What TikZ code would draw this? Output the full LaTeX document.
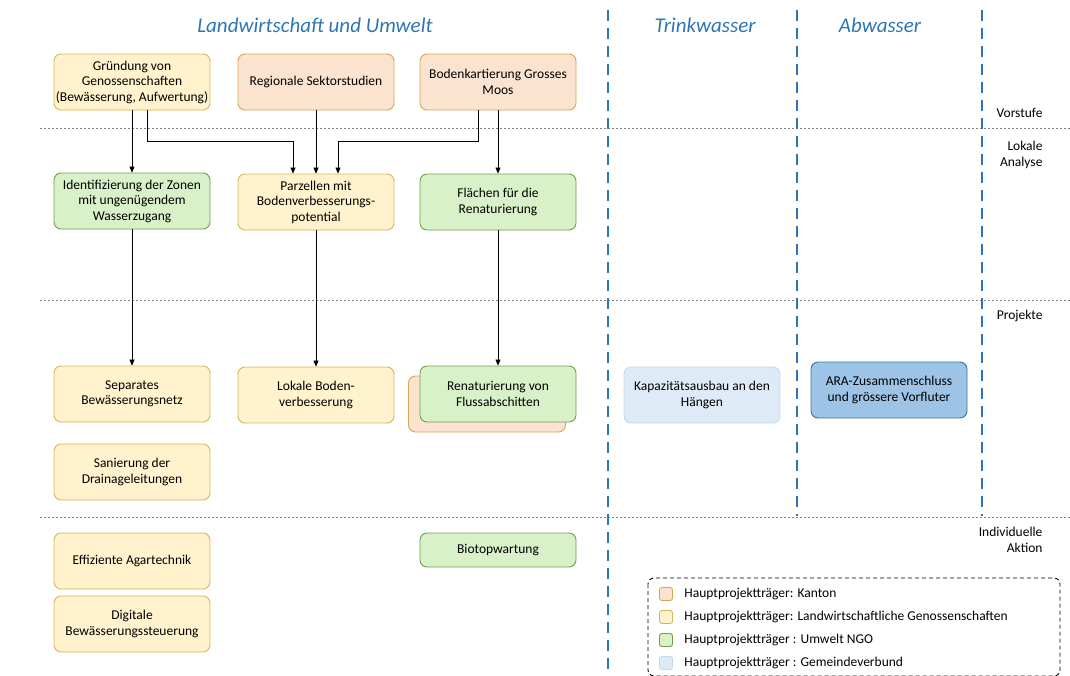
\documentclass[tikz,border=0pt]{standalone}
\usepackage{fontspec}
\setmainfont{Carlito}
\usetikzlibrary{arrows.meta,positioning}
\definecolor{genosfill}{HTML}{FFF2CC}
\definecolor{genosdraw}{HTML}{D6B656}
\definecolor{kantonfill}{HTML}{FBE3D0}
\definecolor{kantondraw}{HTML}{D4A850}
\definecolor{ngofill}{HTML}{D9F1C8}
\definecolor{ngodraw}{HTML}{6F9E52}
\definecolor{gemfill}{HTML}{DEEBF7}
\definecolor{gemdraw}{HTML}{C3D8EE}
\definecolor{arafill}{HTML}{9DC3E6}
\definecolor{aradraw}{HTML}{41719C}
\definecolor{lanecol}{HTML}{2E75B6}
\tikzset{
    plan diagram/.style = {x=1pt, y=-1pt, >={Triangle[length=6pt,width=5pt]},
                           font=\fontsize{13.5}{15.5}\selectfont},
    line/.style         = {semithick},
    box/.style          = {draw, line width=0.9pt, rounded corners=7pt,
                           minimum width=156pt, minimum height=56pt,
                           align=center, inner sep=1pt},
    kanton/.style       = {box, fill=kantonfill, draw=kantondraw},
    genos/.style        = {box, fill=genosfill, draw=genosdraw},
    ngo/.style          = {box, fill=ngofill, draw=ngodraw},
    gemeinde/.style     = {box, fill=gemfill, draw=gemdraw},
    ara box/.style      = {box, fill=arafill, draw=aradraw},
    lane/.style         = {draw=lanecol, line width=2.6pt,
                           dash pattern=on 11pt off 7pt},
    lane title/.style   = {text=lanecol, font=\fontsize{21}{24}\selectfont\itshape},
    phase/.style        = {draw=gray, line width=0.9pt,
                           dash pattern=on 2pt off 2pt},
    phase label/.style  = {align=right, anchor=east,
                           font=\fontsize{13.5}{16}\selectfont},
    key/.style          = {draw, line width=0.9pt, rounded corners=2.5pt,
                           minimum size=13pt, inner sep=0pt},
    key text/.style     = {anchor=west, font=\fontsize{13.5}{15}\selectfont},
    legend frame/.style = {draw, line width=0.9pt, rounded corners=6pt,
                           dash pattern=on 4pt off 3pt}
}
\begin{document}
\begin{tikzpicture}[plan diagram]
\useasboundingbox (0,0) rectangle (1070,675);

% ================= Phases (dotted rows) =================
\draw[phase] (40,128) -- (1070,128);
\draw[phase] (40,300) -- (1070,300);
\draw[phase] (40,517) -- (1070,517);

\node[phase label] (vorstufe) at (1046,113) {Vorstufe};
\node[phase label] (lokal)    at (1046,155) {Lokale\\Analyse};
\node[phase label] (projekte) at (1046,316) {Projekte};
\node[phase label] (aktion)   at (1046,540) {Individuelle\\Aktion};

% ================= Sectors (dashed columns) =================
\draw[lane] (608,10) -- (608,675);
\draw[lane] (797,10) -- (797,516);
\draw[lane] (982,10) -- (982,516);

\node[lane title] (landw)  at (315,25) {Landwirtschaft und Umwelt};
\node[lane title] (trink)  at (705,25) {Trinkwasser};
\node[lane title] (abwass) at (880,25) {Abwasser};

% ================= Vorstufe =================
\node[genos]  (gruendung) at (132,82) {Gründung von\\Genossenschaften\\(Bewässerung, Aufwertung)};
\node[kanton] (sektor)    at (316,82) {Regionale Sektorstudien};
\node[kanton] (bodenkart) at (498,82) {Bodenkartierung Grosses\\Moos};

% ================= Lokale Analyse =================
\node[ngo]   (zonen)     at (132,201) {Identifizierung der Zonen\\mit ungenügendem\\Wasserzugang};
\node[genos] (parzellen) at (316,202) {Parzellen mit\\Bodenverbesserungs-\\potential};
\node[ngo]   (flaechen)  at (498,202) {Flächen für die\\Renaturierung};

\draw[->, line] (gruendung.south) -- (zonen.north);
\draw[->, line] ([xshift=15pt]gruendung.south) -- ++(0,31)
                -| ([xshift=-23pt]parzellen.north);
\draw[->, line] (sektor.south) -- (parzellen.north);
\draw[->, line] ([xshift=-20pt]bodenkart.south) -- ++(0,31)
                -| ([xshift=22pt]parzellen.north);
\draw[->, line] (bodenkart.south) -- (flaechen.north);

% ================= Projekte =================
\node[genos] (netz)      at (132,394) {Separates\\Bewässerungsnetz};
\node[genos] (bodenverb) at (316,395) {Lokale Boden-\\verbesserung};
\node[kanton, minimum width=157pt] (renatback) at (487,404) {};
\node[ngo]   (renat)     at (498,394) {Renaturierung von\\Flussabschitten};
\node[gemeinde] (kapaz)  at (702,395) {Kapazitätsausbau an den\\Hängen};
\node[ara box]  (ara)    at (889,390) {ARA-Zusammenschluss\\und grössere Vorfluter};
\node[genos] (drainage)  at (132,472) {Sanierung der\\Drainageleitungen};

\draw[->, line] (zonen.south) -- (netz.north);
\draw[->, line] (parzellen.south) -- (bodenverb.north);
\draw[->, line] (flaechen.south) -- (renat.north);

% ================= Individuelle Aktion =================
\node[genos] (agartech)  at (132,561) {Effiziente Agartechnik};
\node[genos] (steuerung) at (132,624) {Digitale\\Bewässerungssteuerung};
\node[ngo, minimum height=34pt] (biotop) at (498,550) {Biotopwartung};

% ================= Legend =================
\draw[legend frame] (648,578) rectangle (1060,676);
\node[key, fill=kantonfill, draw=kantondraw] (kkanton) at (666,594) {};
\node[key, fill=genosfill, draw=genosdraw]   (kgenos)  at (666,617) {};
\node[key, fill=ngofill, draw=ngodraw]       (kngo)    at (666,640) {};
\node[key, fill=gemfill, draw=gemdraw]       (kgem)    at (666,663) {};
\node[key text, right=8pt of kkanton] {Hauptprojektträger: Kanton};
\node[key text, right=8pt of kgenos]  {Hauptprojektträger: Landwirtschaftliche Genossenschaften};
\node[key text, right=8pt of kngo]    {Hauptprojektträger : Umwelt NGO};
\node[key text, right=8pt of kgem]    {Hauptprojektträger : Gemeindeverbund};

\end{tikzpicture}
\end{document}
